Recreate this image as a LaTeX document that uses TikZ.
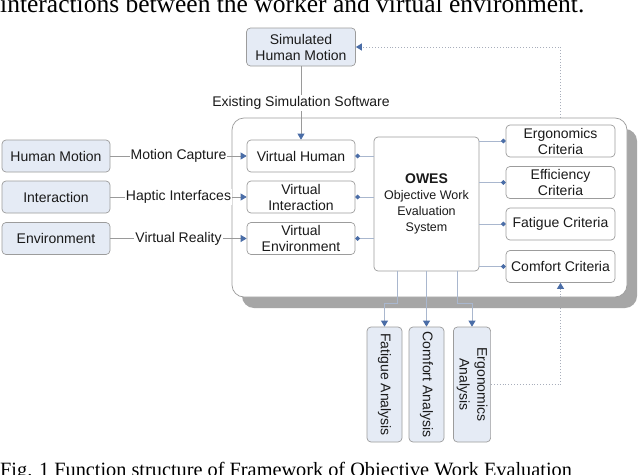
\documentclass[tikz,border=0pt]{standalone}
\usepackage{fontspec}
\setmainfont{Liberation Sans}
\newfontfamily\serifcap{Liberation Serif}
\usetikzlibrary{arrows.meta,shadows,calc,backgrounds}
\definecolor{boxfill}{HTML}{E5EBF5}
\definecolor{boxline}{HTML}{9C9C9C}
\definecolor{arrowblue}{HTML}{4A6DA7}
\definecolor{outline}{HTML}{9A9A9A}
\definecolor{inline}{HTML}{A9B7CE}
\definecolor{fbline}{HTML}{A8AEBB}
\definecolor{shadowgray}{HTML}{A6A6A6}
\definecolor{txt}{HTML}{1A1A1A}
\begin{document}
\begin{tikzpicture}[x=1pt,y=-1pt,
 every node/.style={text=txt, font=\fontsize{14}{16}\selectfont},
 boxbase/.style={draw=boxline, line width=0.7pt, rounded corners=4pt, inner sep=1pt, align=center},
 bluebox/.style={boxbase, fill=boxfill, minimum width=108pt, minimum height=32pt},
 whitebox/.style={boxbase, fill=white, minimum width=108pt, minimum height=32pt},
 critbox/.style={boxbase, fill=white, minimum width=109pt, minimum height=32pt},
 anbox/.style={boxbase, fill=boxfill, minimum width=35pt, minimum height=115pt},
 lbl/.style={fill=white, inner sep=1pt},
 arrtip/.style={-{Triangle[length=6pt,width=7pt,color=arrowblue]}},
 dotend/.style={-{Circle[length=4.5pt,color=arrowblue]}},
 dotstart/.style={{Circle[length=4.5pt,color=arrowblue]}-},
 outconn/.style={draw=outline, line width=0.7pt},
 inconn/.style={draw=inline, line width=0.8pt},
 fb/.style={draw=fbline, line width=0.9pt, dotted},
]
\useasboundingbox (0,0) rectangle (640,474);

% surrounding text (cropped in the reference)
\node[anchor=base west, inner sep=0, font=\serifcap\fontsize{25.5}{26}\selectfont, text=black] (toptext) at (0,12.5)
  {interactions between the worker and virtual environment.};
\node[anchor=base west, inner sep=0, font=\serifcap\fontsize{20.3}{22}\selectfont, text=black] (caption) at (0,476.5)
  {Fig. 1 Function structure of Framework of Objective Work Evaluation};

% top box
\node[bluebox, minimum width=109pt, minimum height=38pt] (shm) at (301,47) {Simulated\\Human Motion};

% container
\node[draw=boxline, line width=0.7pt, fill=white, rounded corners=12pt,
      minimum width=395pt, minimum height=179pt,
      drop shadow={shadow xshift=10pt, shadow yshift=-11pt, fill=shadowgray, opacity=1}]
      (ctr) at (429.5,207.5) {};

% left boxes
\node[bluebox] (hm)  at (56,156)   {Human Motion};
\node[bluebox] (int) at (56,197)   {Interaction};
\node[bluebox] (env) at (56,238.5) {Environment};

% virtual boxes
\node[whitebox] (vh) at (301,156)   {Virtual Human};
\node[whitebox] (vi) at (301,197)   {Virtual\\Interaction};
\node[whitebox] (ve) at (301,238.5) {Virtual\\Environment};

% OWES
\node[boxbase, fill=white, minimum width=105pt, minimum height=134pt, font=\fontsize{12.5}{16}\selectfont]
  (owes) at (426.5,204) {{\fontsize{14}{16}\selectfont\bfseries OWES}\\Objective Work\\Evaluation\\System};

% criteria
\node[critbox] (ec)  at (560.5,141)   {Ergonomics\\Criteria};
\node[critbox] (efc) at (560.5,182.5) {Efficiency\\Criteria};
\node[critbox] (fc)  at (560.5,224)   {Fatigue Criteria};
\node[critbox] (cc)  at (560.5,266.5) {Comfort Criteria};

% analyses
\node[anbox] (fa) at (384.5,384.5) {\rotatebox{-90}{Fatigue Analysis}};
\node[anbox] (ca) at (426.5,384.5) {\rotatebox{-90}{Comfort Analysis}};
\node[anbox, minimum width=34pt] (ea) at (472,384.5)
  {\rotatebox{-90}{\renewcommand\arraystretch{1.1}\begin{tabular}{@{}c@{}}Ergonomics\\Analysis\end{tabular}}};

% connectors
\draw[outconn, arrtip] (shm) -- (vh) node[lbl, midway] {Existing Simulation Software};
\draw[outconn, arrtip] (hm)  -- (vh) node[lbl, midway] {Motion Capture};
\draw[outconn, arrtip] (int) -- (vi) node[lbl, midway] {Haptic Interfaces};
\draw[outconn, arrtip] (env) -- (ve) node[lbl, midway] {Virtual Reality};

\draw[inconn, dotstart] (vh) -- (vh -| owes.west);
\draw[inconn, dotstart] (vi) -- (vi -| owes.west);
\draw[inconn, dotstart] (ve) -- (ve -| owes.west);

\draw[inconn, dotend] (ec -| owes.east)  -- (ec);
\draw[inconn, dotend] (efc -| owes.east) -- (efc);
\draw[inconn, dotend] (fc -| owes.east)  -- (fc);
\draw[inconn, dotend] (cc -| owes.east)  -- (cc);

\draw[inconn, arrtip] ([xshift=-29.5pt]owes.south) -- ++(0,32) -| (fa.north);
\draw[inconn, arrtip] (owes.south -| ca.north) -- (ca.north);
\draw[inconn, arrtip] ([xshift=30.5pt]owes.south) -- ++(0,32) -| (ea.north);

\begin{pgfonlayer}{background}
\fill[white] (0,0) rectangle (640,474);
\draw[fb, arrtip] (ea.east) -- (ea.east -| cc.south) |- (shm.east);
\end{pgfonlayer}
\draw[fb, arrtip] (cc.south |- ctr.south) -- (cc.south);
\end{tikzpicture}
\end{document}
